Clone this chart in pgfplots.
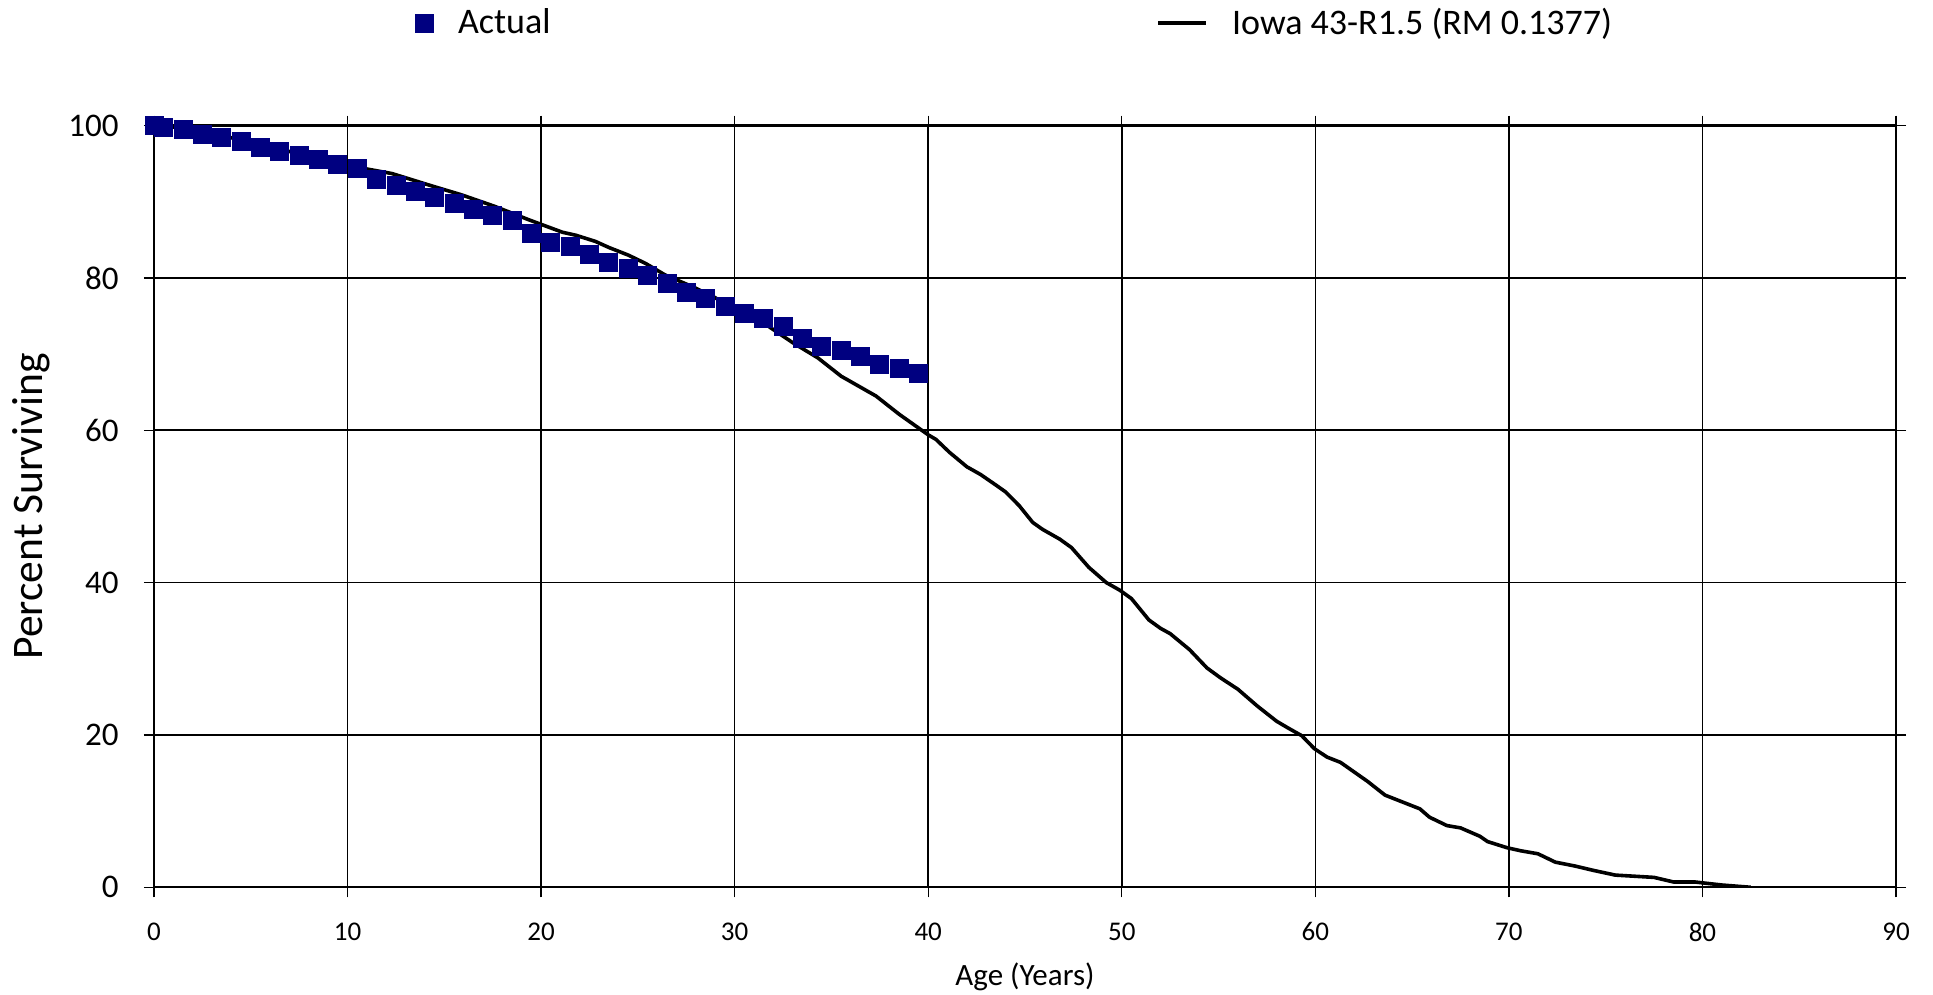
\documentclass[border=0pt]{standalone}
\usepackage{fontspec}
\setmainfont{Carlito}
\usepackage{pgfplots}
\pgfplotsset{compat=1.18}
\definecolor{navy}{HTML}{000080}
\pgfplotsset{
  mylegmark/.style={legend image code/.code={\path[draw=none,fill=none] (0pt,0pt) -- (24pt,0pt); \draw[##1] plot coordinates {(12pt,0pt)};}},
  myleglineimg/.style={legend image code/.code={\draw[##1] (0pt,0pt) -- (24pt,0pt);}},
}

\pgfplotstableread{
age val
0 100
0.5 99.8
1.5 99.5
2.5 98.9
3.5 98.5
4.5 97.9
5.5 97.1
6.5 96.6
7.5 96.1
8.5 95.5
9.5 94.9
10.5 94.4
11.5 92.9
12.5 92.2
13.5 91.4
14.5 90.6
15.5 89.8
16.5 89.0
17.5 88.2
18.5 87.5
19.5 85.8
20.5 84.7
21.5 84.1
22.5 83.1
23.5 82.0
24.5 81.2
25.5 80.3
26.5 79.3
27.5 78.1
28.5 77.3
29.5 76.2
30.5 75.3
31.5 74.7
32.5 73.7
33.5 72.0
34.5 71.0
35.5 70.5
36.5 69.7
37.5 68.6
38.5 68.1
39.5 67.5
}\actual

\pgfplotstableread{
age val
0 100
1 99.8
2 99.4
3 98.9
4 98.4
5 97.8
6 97.2
7 96.6
8 96.0
9 95.4
10 94.8
11 94.3
12.3 93.7
14.2 92.2
15.9 90.9
17.6 89.4
19.4 87.6
21.1 86.0
21.8 85.6
22.8 84.8
23.5 84.0
24.5 83.0
25.4 81.9
26.4 80.4
27.95 78.7
29.0 77.4
29.9 75.8
31.6 73.9
33.0 71.5
34.3 69.5
35.5 67.1
37.3 64.5
38.5 62.1
40.0 59.4
40.4 58.8
41.1 57.1
42.0 55.2
42.7 54.2
43.5 52.8
44.0 51.9
44.7 50.1
45.4 47.9
45.9 47.0
46.8 45.7
47.4 44.6
48.3 42.0
49.2 40.0
49.9 39.0
50.5 37.9
51.4 35.1
52.0 34.0
52.5 33.3
53.5 31.2
54.4 28.8
55.1 27.5
56.0 26.0
57.0 23.8
58.0 21.8
58.6 20.9
59.3 19.9
59.95 18.2
60.6 17.1
61.3 16.4
62.7 13.9
63.6 12.1
64.6 11.1
65.4 10.3
65.9 9.2
66.8 8.1
67.5 7.8
68.5 6.7
68.9 6.0
69.9 5.2
70.6 4.8
71.5 4.4
72.4 3.3
73.4 2.8
74.4 2.2
75.5 1.6
77.5 1.3
78.5 0.7
79.6 0.7
81.0 0.3
82.5 0
}\iowa

\begin{document}
\begin{tikzpicture}
\begin{axis}[
  scale only axis,
  width=871pt, height=380.85pt,
  xmin=0, xmax=90, ymin=0, ymax=100,
  xtick={0,10,...,90}, ytick={0,20,...,100},
  grid=major,
  major grid style={black, line width=0.8pt},
  axis line style={black, line width=1.1pt},
  tick style={black, line width=0.7pt},
  tick align=outside, major tick length=5pt,
  /pgf/number format/assume math mode=true,
  xticklabel style={font=\fontsize{13.5}{16}\selectfont, inner sep=0pt, anchor=north, yshift=-12.5pt},
  yticklabel style={font=\fontsize{16.5}{19}\selectfont, inner sep=0pt, anchor=east, xshift=-12.5pt},
  xlabel={Age (Years)},
  xlabel style={font=\fontsize{15.5}{18}\selectfont, at={(axis description cs:0.5,0)}, anchor=base, yshift=-48.9pt},
  ylabel={Percent Surviving},
  ylabel style={font=\fontsize{21.8}{25}\selectfont, at={(axis description cs:0,0.5)}, anchor=center, yshift=61.5pt},
  legend columns=2,
  legend style={at={(axis description cs:0,1)}, anchor=west, xshift=123pt, yshift=51.3pt,
    draw=none, fill=none, inner sep=0pt, outer sep=0pt,
    font=\fontsize{18}{21}\selectfont,
    nodes={inner sep=0pt, outer sep=0pt},
    /tikz/column 1/.style={column sep=5pt},
    /tikz/column 2/.style={column sep=303pt},
    /tikz/column 3/.style={column sep=12pt}},
]
\addlegendimage{only marks, mark=square*, mark size=4.5pt, navy, mylegmark}
\addlegendentry{Actual}
\addlegendimage{black, line width=1.8pt, myleglineimg}
\addlegendentry{Iowa 43-R1.5 (RM 0.1377)}

\addplot[black, line width=1.8pt, line join=round, forget plot] table[x=age, y=val] {\iowa};
\addplot[only marks, mark=square*, mark size=4.5pt, navy, forget plot] table[x=age, y=val] {\actual};

\coordinate (SW) at (rel axis cs:0,0);
\coordinate (NE) at (rel axis cs:1,1);
\end{axis}
\pgfresetboundingbox
\path ([shift={(-77pt,-53.85pt)}]SW) rectangle ([shift={(18.5pt,62.8pt)}]NE);
\end{tikzpicture}
\end{document}
